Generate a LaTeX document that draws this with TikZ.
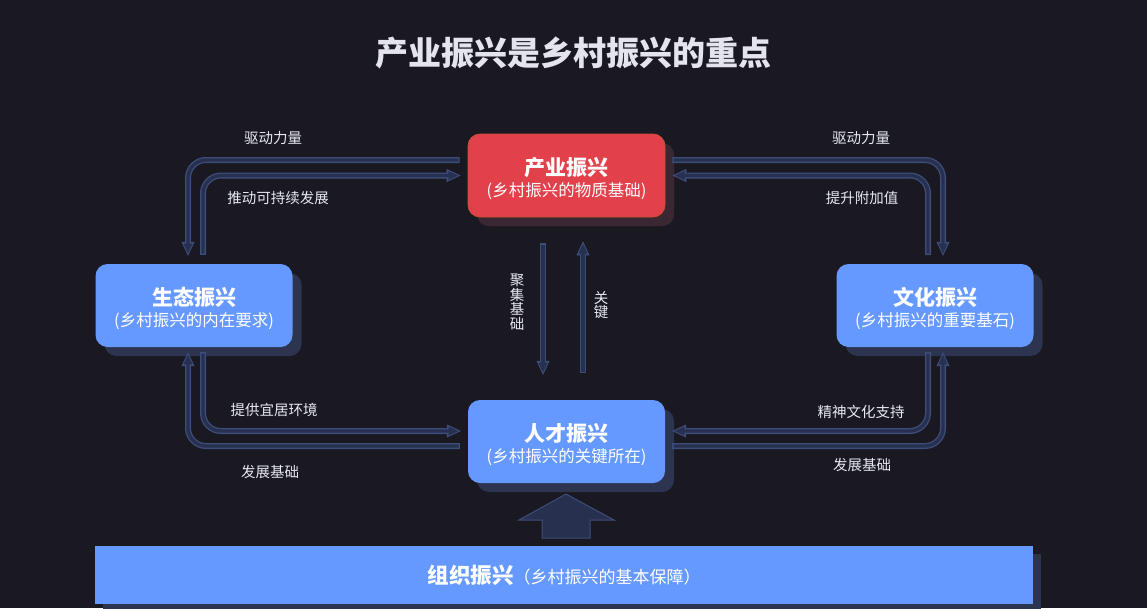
\documentclass[tikz,border=0pt]{standalone}
\usepackage{fontspec}
\setmainfont{Noto Sans CJK SC}
\usetikzlibrary{arrows.meta,shadows}
\definecolor{bgdark}{HTML}{1A1922}
\definecolor{titlegray}{HTML}{E4E4EE}
\definecolor{labelgray}{HTML}{E6E8F2}
\definecolor{boxblue}{HTML}{6699FF}
\definecolor{boxred}{HTML}{E2414C}
\definecolor{redrim}{HTML}{C9502E}
\definecolor{shadered}{HTML}{3A2731}
\definecolor{shadeblue}{HTML}{2C3450}
\definecolor{flowedge}{HTML}{3D4D7A}
\definecolor{flowfill}{HTML}{283050}
\tikzset{
    box/.style={fill=boxblue, rounded corners=12pt, minimum width=197pt, minimum height=83pt,
        align=center, text=white, inner sep=0pt,
        drop shadow={shadow xshift=9pt, shadow yshift=-9pt, fill=shadeblue, opacity=1}},
    redbox/.style={box, fill=boxred, draw=redrim, line width=0.8pt,
        drop shadow={shadow xshift=9pt, shadow yshift=-9pt, fill=shadered, opacity=1}},
    flow/.style={draw=flowedge, line width=6pt, rounded corners=18pt,
        -{Triangle[length=14pt,width=13pt,line width=0.6pt]},
        postaction={draw=flowfill, line width=3.4pt, shorten <=1.3pt, shorten >=2.6pt,
        -{Triangle[length=9.5pt,width=8.8pt,line width=0.4pt]}}},
    lbl/.style={text=labelgray, font=\fontsize{14.5}{16}\selectfont, inner sep=0pt},
    vlbl/.style={lbl, align=center, font=\fontsize{14.5}{14.5}\selectfont},
}
\newcommand{\boxtext}[2]{{\bfseries\fontsize{21}{24}\selectfont\rule{0pt}{24pt}#1}\\[4pt]{\fontsize{16.5}{20}\selectfont #2}}
\begin{document}
\begin{tikzpicture}[x=1pt,y=-1pt]
    \fill[bgdark] (0,0) rectangle (1147,608);
    \useasboundingbox (0,0) rectangle (1147,608);
    \node[text=titlegray, font=\bfseries\fontsize{33}{36}\selectfont] (title) at (573.5,53) {产业振兴是乡村振兴的重点};
    % boxes
    \node[redbox] (cy) at (566.5,175.5) {\boxtext{产业振兴}{(乡村振兴的物质基础)}};
    \node[box] (st) at (194,305.5) {\boxtext{生态振兴}{(乡村振兴的内在要求)}};
    \node[box] (wh) at (935,305.5) {\boxtext{文化振兴}{(乡村振兴的重要基石)}};
    \node[box] (rc) at (566.5,441.5) {\boxtext{人才振兴}{(乡村振兴的关键所在)}};
    \node[fill=boxblue, minimum width=938pt, minimum height=58pt, inner sep=0pt, text=white,
        drop shadow={shadow xshift=8pt, shadow yshift=-8pt, fill=shadeblue, opacity=1}] (zz) at (564,575)
        {{\bfseries\fontsize{21.5}{24}\selectfont 组织振兴}{\fontsize{17}{20}\selectfont （乡村振兴的基本保障）}};
    % top left
    \draw[flow] ([xshift=-8pt,yshift=15.5pt]cy.west) -| ([xshift=-6pt,yshift=8pt]st.north);
    \draw[flow] ([xshift=9pt,yshift=9pt]st.north) |- ([xshift=-7pt]cy.west);
    \node[lbl] (l1) at (273,138) {驱动力量};
    \node[lbl] (l2) at (278,198) {推动可持续发展};
    % top right
    \draw[flow] ([xshift=7pt,yshift=15.5pt]cy.east) -| ([xshift=8pt,yshift=8pt]wh.north);
    \draw[flow] ([xshift=-7pt,yshift=9pt]wh.north) |- ([xshift=7pt]cy.east);
    \node[lbl] (r1) at (861,138) {驱动力量};
    \node[lbl] (r2) at (862,198) {提升附加值};
    % bottom left
    \draw[flow] ([xshift=-8pt,yshift=-4.5pt]rc.west) -| ([xshift=-6pt,yshift=-5pt]st.south);
    \draw[flow] ([xshift=9pt,yshift=-5pt]st.south) |- ([xshift=-7pt,yshift=10.5pt]rc.west);
    \node[lbl] (l3) at (274,410) {提供宜居环境};
    \node[lbl] (l4) at (270,472) {发展基础};
    % bottom right
    \draw[flow] ([xshift=7pt,yshift=-4.5pt]rc.east) -| ([xshift=8pt,yshift=-5pt]wh.south);
    \draw[flow] ([xshift=-7pt,yshift=-5pt]wh.south) |- ([xshift=7pt,yshift=10.5pt]rc.east);
    \node[lbl] (r3) at (861,412) {精神文化支持};
    \node[lbl] (r4) at (862,465) {发展基础};
    % middle
    \draw[flow] ([xshift=-23.5pt,yshift=-26pt]cy.south) -- ([xshift=-23.5pt,yshift=25pt]rc.north);
    \draw[flow] ([xshift=16.5pt,yshift=27pt]rc.north) -- ([xshift=16.5pt,yshift=-24pt]cy.south);
    \node[vlbl] (m1) at (517,302) {聚\\集\\基\\础};
    \node[vlbl] (m2) at (601,305) {关\\键};
    % support arrow
    \draw[fill=flowfill, draw=flowedge, line width=1pt] (566,494) -- (614,520) -- (590,520) -- (590,538)
        -- (542,538) -- (542,520) -- (519,520) -- cycle;
\end{tikzpicture}
\end{document}
